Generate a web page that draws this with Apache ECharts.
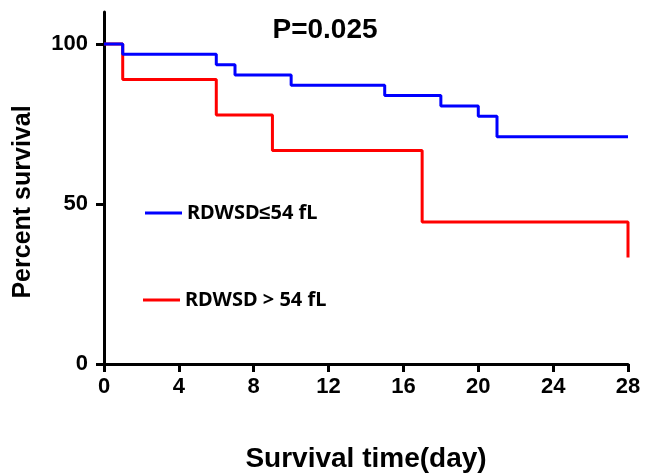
<!DOCTYPE html>
<html>
<head>
<meta charset="utf-8">
<script src="https://cdn.jsdelivr.net/npm/echarts@6/dist/echarts.min.js"></script>
<style>
html,body{margin:0;padding:0;background:#fff;}
#chart{width:648px;height:473px;}
</style>
</head>
<body>
<div id="chart"></div>
<script>
// Kaplan-Meier steps (time in days, percent survival after event)
var lowTimes = [0, 1, 6, 7, 10, 15, 18, 20, 21, 28];
var lowValues = [100, 96.8, 93.5, 90.3, 87.1, 83.9, 80.6, 77.4, 71.0, 71.0];
var highTimes = [0, 1, 6, 9, 17, 28, 28];
var highValues = [100, 88.9, 77.8, 66.7, 44.4, 44.4, 33.3];
var seriesNames = ['RDWSD\u226454 fL', 'RDWSD > 54 fL'];
var yTickValues = [0, 50, 100];
var pText = 'P=0.025';

function pairs(xs, ys) {
  return xs.map(function (x, i) { return [x, ys[i]]; });
}

var chart = echarts.init(document.getElementById('chart'));
var axisFont = 'Liberation Sans, Arial, sans-serif';
var legendText = { fontFamily: 'Noto Sans, sans-serif', fontWeight: 'bold', fontSize: 20, color: '#000' };
chart.setOption({
  animation: false,
  backgroundColor: '#ffffff',
  title: {
    text: pText,
    left: 320,
    top: 11,
    textAlign: 'center',
    textStyle: { fontFamily: axisFont, fontWeight: 'bold', fontSize: 28, color: '#000' }
  },
  legend: [
    {
      data: [seriesNames[0]],
      left: 145, top: 203, padding: 0,
      icon: 'rect', itemWidth: 37, itemHeight: 3,
      textStyle: legendText
    },
    {
      data: [seriesNames[1]],
      left: 143, top: 290, padding: 0,
      icon: 'rect', itemWidth: 37, itemHeight: 3,
      textStyle: legendText
    }
  ],
  grid: { left: 104, right: 20, top: 12, bottom: 109, containLabel: false, outerBoundsMode: 'none' },
  xAxis: {
    type: 'value',
    min: 0, max: 28, interval: 4,
    name: 'Survival time(day)',
    nameLocation: 'middle',
    nameGap: 81,
    nameTextStyle: { fontFamily: axisFont, fontWeight: 'bold', fontSize: 28, color: '#000' },
    axisLine: { show: true, onZero: false, lineStyle: { color: '#000', width: 3 } },
    axisTick: { show: true, length: 8, lineStyle: { color: '#000', width: 3 } },
    axisLabel: { margin: 12, fontFamily: axisFont, fontWeight: 'bold', fontSize: 22, color: '#000' },
    splitLine: { show: false }
  },
  yAxis: {
    type: 'value',
    min: 0, max: 110,
    name: 'Percent survival',
    nameLocation: 'middle',
    nameGap: 68,
    nameRotate: 90,
    nameTextStyle: { fontFamily: axisFont, fontWeight: 'bold', fontSize: 25, color: '#000', padding: [0, 28, 0, 0] },
    axisLine: { show: true, lineStyle: { color: '#000', width: 3 } },
    axisTick: { show: true, length: 8, customValues: yTickValues, lineStyle: { color: '#000', width: 3 } },
    axisLabel: { margin: 16, customValues: yTickValues, fontFamily: axisFont, fontWeight: 'bold', fontSize: 22, color: '#000' },
    splitLine: { show: false }
  },
  series: [
    {
      name: seriesNames[1],
      type: 'line',
      step: 'end',
      data: pairs(highTimes, highValues),
      showSymbol: false,
      symbol: 'none',
      lineStyle: { color: '#ff0000', width: 3 },
      itemStyle: { color: '#ff0000' },
      z: 2
    },
    {
      name: seriesNames[0],
      type: 'line',
      step: 'end',
      data: pairs(lowTimes, lowValues),
      showSymbol: false,
      symbol: 'none',
      lineStyle: { color: '#0000ff', width: 3 },
      itemStyle: { color: '#0000ff' },
      z: 3
    }
  ]
});
</script>
</body>
</html>
